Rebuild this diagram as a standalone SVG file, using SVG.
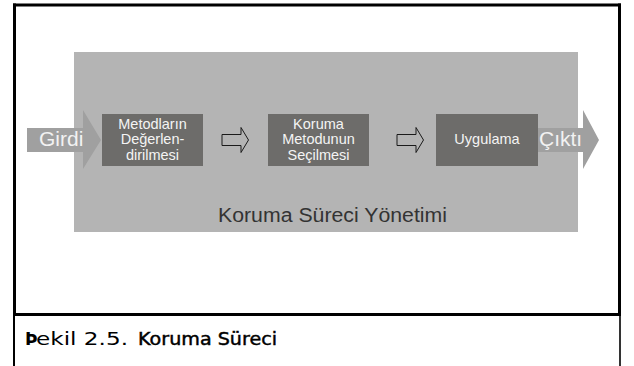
<svg xmlns="http://www.w3.org/2000/svg" width="634" height="366" viewBox="0 0 634 366">
  <style>
    .frame { stroke: #000; fill: none; }
    .box { fill: #6d6c6a; }
    .io { fill: #a0a0a0; }
    .bt { font-family: "Liberation Sans", Arial, sans-serif; font-size: 14.5px; fill: #f4f4f4; text-anchor: middle; }
    .iot { font-family: "Liberation Sans", Arial, sans-serif; font-size: 21px; fill: #f2f2f2; }
    .hollow { fill: none; stroke: #1a1a1a; stroke-width: 1; }
    .cap { font-family: "DejaVu Sans", "Liberation Sans", sans-serif; font-size: 17px; fill: #000; }
  </style>
  <rect width="634" height="366" fill="#fff"/>

  <!-- frame -->
  <g id="frame">
    <line class="frame" x1="13" y1="5" x2="621" y2="5" stroke-width="3"/>
    <line class="frame" x1="14.5" y1="3.5" x2="14.5" y2="314" stroke-width="3"/>
    <line class="frame" x1="619.5" y1="3.5" x2="619.5" y2="314" stroke-width="3"/>
    <line class="frame" x1="13" y1="314.5" x2="621" y2="314.5" stroke-width="3"/>
    <line class="frame" x1="14" y1="316" x2="14" y2="366" stroke-width="2"/>
    <line x1="620" y1="316" x2="620" y2="366" stroke="#333" stroke-width="2"/>
  </g>

  <!-- container -->
  <g id="process">
    <rect x="74" y="52" width="504" height="180" fill="#b4b4b4"/>
    <text x="218" y="222" font-family="'Liberation Sans', Arial, sans-serif" font-size="19.5" fill="#333" textLength="229" lengthAdjust="spacingAndGlyphs">Koruma Süreci Yönetimi</text>
  </g>

  <!-- input -->
  <g id="girdi">
    <polygon class="io" points="27,128 83,128 83,110 101,140 83,169 83,152 27,152"/>
    <text class="iot" x="39" y="146">Girdi</text>
  </g>

  <g id="box1">
    <rect class="box" x="102" y="114" width="101" height="52"/>
    <text class="bt" x="152.5" y="128.5">Metodların</text>
    <text class="bt" x="152.5" y="144">Değerlen-</text>
    <text class="bt" x="152.5" y="159.5">dirilmesi</text>
  </g>

  <g id="box2">
    <rect class="box" x="268" y="114" width="101" height="52"/>
    <text class="bt" x="318.5" y="128.5">Koruma</text>
    <text class="bt" x="318.5" y="144">Metodunun</text>
    <text class="bt" x="318.5" y="159.5">Seçilmesi</text>
  </g>

  <g id="box3">
    <rect class="box" x="436" y="114" width="102" height="52"/>
    <text class="bt" x="487" y="144">Uygulama</text>
  </g>

  <!-- output -->
  <g id="cikti">
    <polygon class="io" points="538,128 583,128 583,110 599,140 583,169 583,152 538,152"/>
    <text class="iot" x="539" y="146">Çıktı</text>
  </g>

  <!-- connectors -->
  <g id="connectors">
    <polygon class="hollow" points="222,134.5 241,134.5 241,127.5 248.5,140 241,152.5 241,145.5 222,145.5"/>
    <polygon class="hollow" points="397,134.5 416,134.5 416,127.5 423.5,140 416,152.5 416,145.5 397,145.5"/>
  </g>

  <!-- caption -->
  <g id="caption">
    <text class="cap" x="25" y="345" font-weight="bold">Þ</text>
    <text class="cap" x="36" y="345" font-size="18" textLength="92" lengthAdjust="spacingAndGlyphs">ekil 2.5.</text>
    <text class="cap" x="138" y="345" stroke="#000" stroke-width="0.45" textLength="139" lengthAdjust="spacingAndGlyphs">Koruma Süreci</text>
  </g>
</svg>
